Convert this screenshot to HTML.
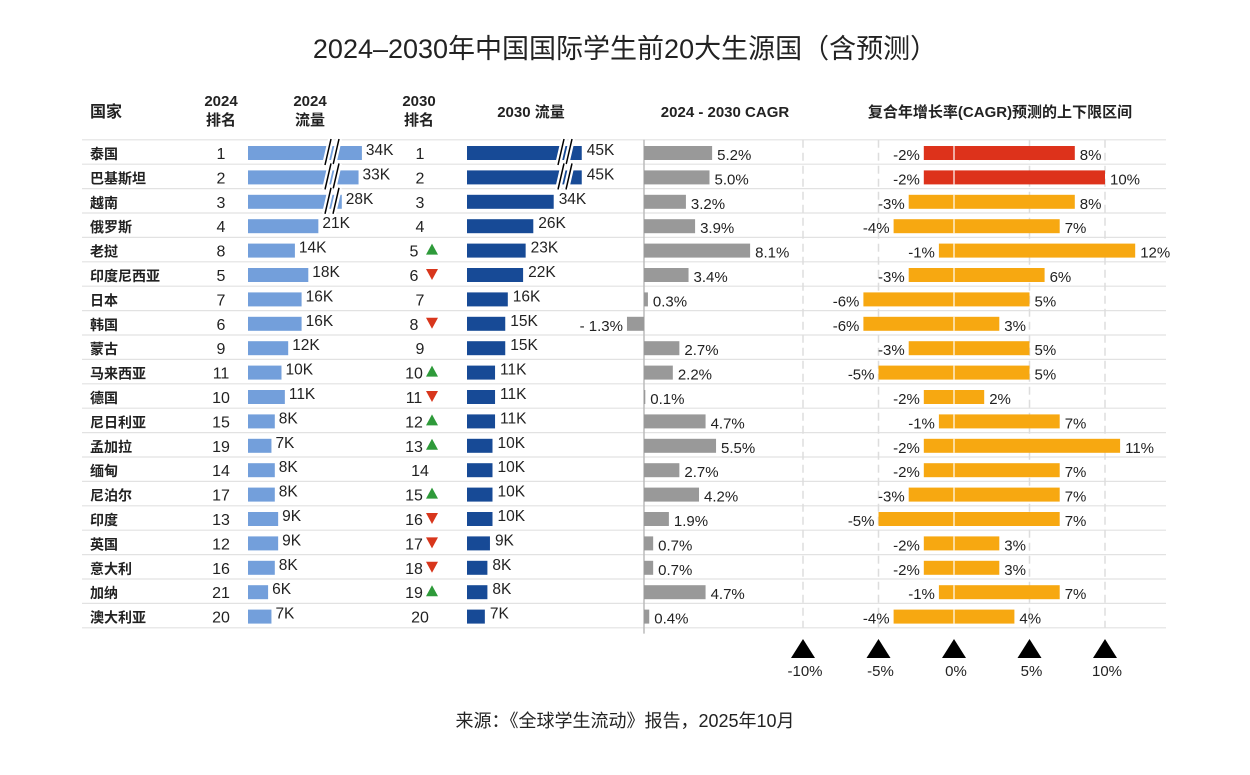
<!DOCTYPE html>
<html><head><meta charset="utf-8"><style>
html,body{margin:0;padding:0;background:#fff;}
svg{display:block;font-family:"Liberation Sans","Noto Sans CJK SC",sans-serif;}
</style></head><body>
<svg id="c" width="1250" height="775" viewBox="0 0 1250 775">
<text x="625" y="58" text-anchor="middle" font-size="27" fill="#222">2024–2030年中国国际学生前20大生源国（含预测）</text>
<g font-size="15" font-weight="bold" fill="#222">
<text x="90" y="117" font-size="16">国家</text>
<text x="221" y="106" text-anchor="middle">2024</text>
<text x="221" y="125" text-anchor="middle">排名</text>
<text x="310" y="106" text-anchor="middle">2024</text>
<text x="310" y="125" text-anchor="middle">流量</text>
<text x="419" y="106" text-anchor="middle">2030</text>
<text x="419" y="125" text-anchor="middle">排名</text>
<text x="531" y="117" text-anchor="middle">2030 流量</text>
<text x="725" y="117" text-anchor="middle">2024 - 2030 CAGR</text>
<text x="1000" y="117" text-anchor="middle">复合年增长率(CAGR)预测的上下限区间</text>
</g>
<g id="grid"></g>
<g id="rows"></g>
<g id="axis"></g>
<text x="625" y="727" text-anchor="middle" font-size="18" fill="#222">来源：《全球学生流动》报告，2025年10月</text>
</svg>
<script>
const countries=["泰国","巴基斯坦","越南","俄罗斯","老挝","印度尼西亚","日本","韩国","蒙古","马来西亚","德国","尼日利亚","孟加拉","缅甸","尼泊尔","印度","英国","意大利","加纳","澳大利亚"];
const rank2024=[1,2,3,4,8,5,7,6,9,11,10,15,19,14,17,13,12,16,21,20];
const flow2024=[34,33,28,21,14,18,16,16,12,10,11,8,7,8,8,9,9,8,6,7];
const rank2030=[1,2,3,4,5,6,7,8,9,10,11,12,13,14,15,16,17,18,19,20];
const rankMove=["","","","","up","down","","down","","up","down","up","up","","up","down","down","down","up",""];
const flow2030=[45,45,34,26,23,22,16,15,15,11,11,11,10,10,10,10,9,8,8,7];
const cagr=[5.2,5.0,3.2,3.9,8.1,3.4,0.3,-1.3,2.7,2.2,0.1,4.7,5.5,2.7,4.2,1.9,0.7,0.7,4.7,0.4];
const lowBound=[-2,-2,-3,-4,-1,-3,-6,-6,-3,-5,-2,-1,-2,-2,-3,-5,-2,-2,-1,-4];
const highBound=[8,10,8,7,12,6,5,3,5,5,2,7,11,7,7,7,3,3,7,4];
const rangeTicks=[-10,-5,0,5,10];
const rangeTickLabels=["-10%","-5%","0%","5%","10%"];

const NS="http://www.w3.org/2000/svg";
function mk(tag,attrs,parent,txt){const e=document.createElementNS(NS,tag);for(const k in attrs)e.setAttribute(k,attrs[k]);if(txt!==undefined)e.textContent=txt;parent.appendChild(e);return e;}
const rowY=i=>152+i*24.4;
const x24=v=>248+v*3.35;
const x30=v=>467+v*2.55;
const xC=v=>644+v*13.1;
const xR=v=>954+v*15.1;
const gridG=document.getElementById('grid'),rowsG=document.getElementById('rows'),axisG=document.getElementById('axis');
const N=countries.length;
for(let i=0;i<=N;i++){
  const y=rowY(i)-12.2;
  const l=mk('line',{x1:82,x2:1166,y1:y,y2:y,stroke:'#e2e2e2','stroke-width':1.2},gridG);
  
  
}
const topY=rowY(0)-12.2,botY=rowY(N-1)+12;
rangeTicks.forEach((t,k)=>{
  if(t!==0){const g=mk('line',{x1:xR(t),x2:xR(t),y1:topY,y2:botY,stroke:'#ddd','stroke-width':1.5,'stroke-dasharray':'8 5'},gridG);
  
  }
  const tri=mk('polygon',{points:`${xR(t)-12},658 ${xR(t)+12},658 ${xR(t)},639`,fill:'#000'},axisG);
  
  
  const lb=mk('text',{x:xR(t)+2,y:676,'text-anchor':'middle','font-size':15,fill:'#222'},axisG,rangeTickLabels[k]);
  
  
});
const ax=mk('line',{x1:644,x2:644,y1:topY,y2:botY+6,stroke:'#bbb','stroke-width':1.5},gridG);



for(let i=0;i<N;i++){
  const y=rowY(i),bh=14,by=y-6;
  const g=mk('g',{},rowsG);
  
  
  let t=mk('text',{x:90,y:y+7,'font-size':14,'font-weight':'bold',fill:'#222'},g,countries[i]);
  
  
  t=mk('text',{x:221,y:y+7,'text-anchor':'middle','font-size':16,fill:'#222'},g,rank2024[i]);
  
  
  let r=mk('rect',{x:x24(0),y:by,width:x24(flow2024[i])-x24(0),height:bh,fill:'#739fdb'},g);
  
  
  t=mk('text',{x:x24(flow2024[i])+4,y:y+3,'font-size':15.5,fill:'#222'},g,flow2024[i]+'K');
  
  
  if(flow2024[i]>25){
    const d=`M325,${y+13} L331,${y-13} M333,${y+13} L339,${y-13}`;
    const b=mk('path',{d,stroke:'#fff','stroke-width':6},g);
    
    
    const b2=mk('path',{d,stroke:'#000','stroke-width':1.5},g);
    
    
  }
  const hasMove=rankMove[i]!=="";
  t=mk('text',{x:hasMove?414:420,y:y+7,'text-anchor':'middle','font-size':16,fill:'#222'},g,rank2030[i]);
  
  
  if(rankMove[i]==='up'){const p=mk('polygon',{points:`426,${y+5} 438,${y+5} 432,${y-6}`,fill:'#2e9a3a'},g);
    
    }
  if(rankMove[i]==='down'){const p=mk('polygon',{points:`426,${y-5} 438,${y-5} 432,${y+6}`,fill:'#d8361c'},g);
    
    }
  r=mk('rect',{x:x30(0),y:by,width:x30(flow2030[i])-x30(0),height:bh,fill:'#174a96'},g);
  
  
  t=mk('text',{x:x30(flow2030[i])+5,y:y+3,'font-size':15.5,fill:'#222'},g,flow2030[i]+'K');
  
  
  if(flow2030[i]>40){
    const d=`M558,${y+13} L564,${y-13} M566,${y+13} L572,${y-13}`;
    const b=mk('path',{d,stroke:'#fff','stroke-width':6},g);
    
    
    const b2=mk('path',{d,stroke:'#000','stroke-width':1.5},g);
    
    
  }
  const c=cagr[i];
  r=mk('rect',{x:Math.min(xC(0),xC(c)),y:by,width:Math.abs(xC(c)-xC(0)),height:bh,fill:'#999'},g);
  
  
  t=mk('text',{x:c>=0?xC(c)+5:xC(c)-4,y:y+8,'text-anchor':c>=0?'start':'end','font-size':15,fill:'#222'},g,(c<0?'- ':'')+Math.abs(c).toFixed(1)+'%');
  
  
  const col=i<2?'#dd321b':'#f7a811';
  r=mk('rect',{x:xR(lowBound[i]),y:by,width:xR(highBound[i])-xR(lowBound[i]),height:bh,fill:col},g);
  
  
  const z=mk('line',{x1:xR(0),x2:xR(0),y1:by,y2:by+bh,stroke:'#fff','stroke-width':1.2},g);
  
  
  t=mk('text',{x:xR(lowBound[i])-4,y:y+8,'text-anchor':'end','font-size':15,fill:'#222'},g,'-'+Math.abs(lowBound[i])+'%');
  
  
  t=mk('text',{x:xR(highBound[i])+5,y:y+8,'font-size':15,fill:'#222'},g,highBound[i]+'%');
  
  
}
</script>
</body></html>
